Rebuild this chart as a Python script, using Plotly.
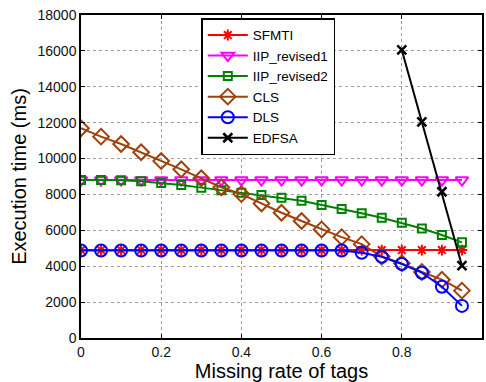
import plotly.graph_objects as go

x = [0, 0.05, 0.1, 0.15, 0.2, 0.25, 0.3, 0.35, 0.4, 0.45,
     0.5, 0.55, 0.6, 0.65, 0.7, 0.75, 0.8, 0.85, 0.9, 0.95]
sfmti = [4900] * 20
iip1 = [8800] * 20
iip2 = [8800, 8800, 8790, 8730, 8640, 8530, 8380, 8230, 8100, 7970,
        7820, 7650, 7410, 7190, 6950, 6700, 6420, 6100, 5740, 5330]
cls = [11690, 11220, 10810, 10350, 9860, 9400, 8900, 8400, 8020, 7500,
       6980, 6520, 6050, 5620, 5230, 4540, 4160, 3680, 3250, 2640]
dls = [4880] * 14 + [4750, 4530, 4120, 3640, 2860, 1790]
edfsa_x = [0.8, 0.85, 0.9, 0.95]
edfsa = [16050, 12050, 8150, 4030]

font = "Liberation Sans, Arial, Helvetica, sans-serif"
fig = go.Figure()
fig.add_trace(go.Scatter(x=x, y=sfmti, name="SFMTI", mode="lines+markers",
                         line=dict(color="#ff0000", width=2),
                         marker=dict(symbol="asterisk-open", size=9, line=dict(color="#ff0000", width=2))))
fig.add_trace(go.Scatter(x=x, y=iip1, name="IIP_revised1", mode="lines+markers",
                         line=dict(color="#ff00ff", width=2),
                         marker=dict(symbol="triangle-down-open", size=11, line=dict(color="#ff00ff", width=2))))
fig.add_trace(go.Scatter(x=x, y=iip2, name="IIP_revised2", mode="lines+markers",
                         line=dict(color="#008000", width=2),
                         marker=dict(symbol="square-open", size=8, line=dict(color="#008000", width=2))))
fig.add_trace(go.Scatter(x=x, y=cls, name="CLS", mode="lines+markers",
                         line=dict(color="#a0400a", width=2),
                         marker=dict(symbol="diamond-open", size=12, line=dict(color="#a0400a", width=2))))
fig.add_trace(go.Scatter(x=x, y=dls, name="DLS", mode="lines+markers",
                         line=dict(color="#0000ff", width=2),
                         marker=dict(symbol="circle-open", size=12, line=dict(color="#0000ff", width=2))))
fig.add_trace(go.Scatter(x=edfsa_x, y=edfsa, name="EDFSA", mode="lines+markers",
                         line=dict(color="#000000", width=2),
                         marker=dict(symbol="x-thin-open", size=9, line=dict(color="#000000", width=2.5))))

axis_common = dict(showline=True, linecolor="black", linewidth=1.5, mirror="ticks",
                   ticks="inside", ticklen=4, tickcolor="black",
                   showgrid=True, gridcolor="#a0a0a0", griddash="dot", gridwidth=1,
                   zeroline=False, tickfont=dict(size=14, color="#111", family=font))
fig.update_xaxes(range=[0, 1], dtick=0.2, tickformat="~g",
                 title=dict(text="Missing rate of tags", font=dict(size=20, color="black", family=font), standoff=0),
                 **axis_common)
fig.update_yaxes(range=[0, 18000], dtick=2000, tickformat="d",
                 title=dict(text="Execution time (ms)", font=dict(size=20, color="black", family=font), standoff=6),
                 **axis_common)
fig.update_layout(
    width=486, height=382,
    margin=dict(l=81, r=2, t=15, b=44),
    plot_bgcolor="white", paper_bgcolor="white",
    font=dict(family=font, color="black"),
    legend=dict(x=0.3, y=0.99, xanchor="left", yanchor="top",
                bordercolor="black", borderwidth=1.5, bgcolor="white",
                font=dict(size=13.5, family=font, color="black"),
                itemwidth=40, tracegroupgap=0),
)
fig.write_html("out.html")
